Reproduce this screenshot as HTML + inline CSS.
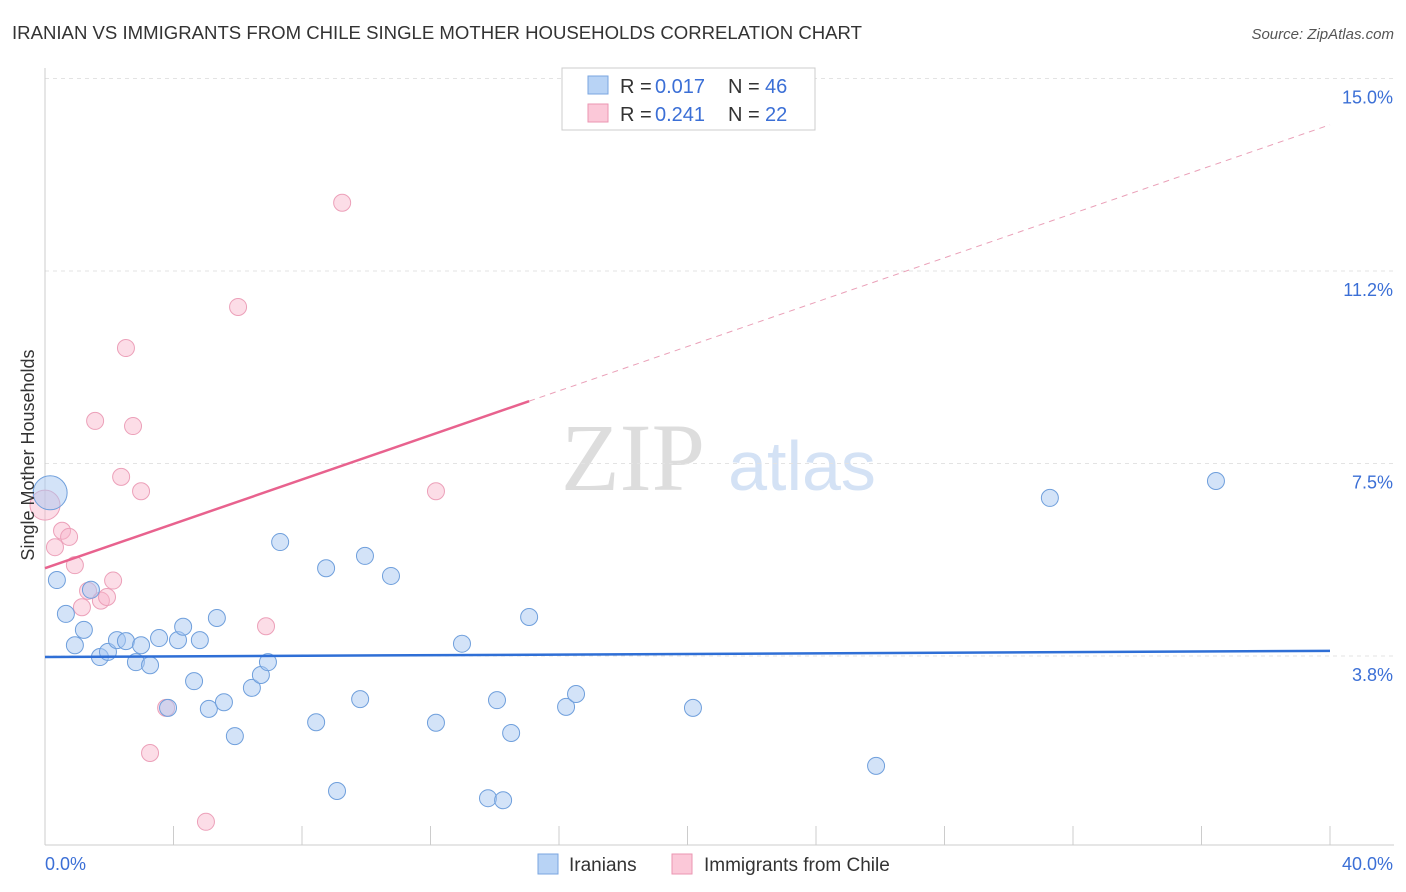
<!DOCTYPE html>
<html><head><meta charset="utf-8"><style>
body{margin:0;background:#fff;font-family:"Liberation Sans",sans-serif;}
svg{display:block}
</style></head><body>
<svg id="c" width="1406" height="892">
<text x="12" y="39" font-size="18" fill="#333" textLength="850" lengthAdjust="spacingAndGlyphs">IRANIAN VS IMMIGRANTS FROM CHILE SINGLE MOTHER HOUSEHOLDS CORRELATION CHART</text>
<text x="1394" y="39" font-size="15" fill="#555" font-style="italic" text-anchor="end">Source: ZipAtlas.com</text>
<text x="633" y="490" font-size="96" fill="#ddd" font-family="Liberation Serif" text-anchor="middle">ZIP</text>
<text x="802" y="490" font-size="70" fill="#d4e2f5" text-anchor="middle">atlas</text>
<g id="grid"></g><g id="axes"></g><g id="marks"></g>
<text transform="translate(34,455) rotate(-90)" font-size="18" fill="#333" text-anchor="middle">Single Mother Households</text>
<g>
<rect x="562" y="68" width="253" height="62" fill="#fff" stroke="#ccc"/>
<rect x="588" y="76" width="20" height="18" fill="#b8d3f5" stroke="#7aa6e0"/>
<rect x="588" y="104" width="20" height="18" fill="#fbc8d8" stroke="#eb96b2"/>
<text y="93" font-size="20" fill="#333"><tspan x="620">R =</tspan><tspan x="655" fill="#3b6fd6">0.017</tspan><tspan x="728">N =</tspan><tspan x="765" fill="#3b6fd6">46</tspan></text>
<text y="121" font-size="20" fill="#333"><tspan x="620">R =</tspan><tspan x="655" fill="#3b6fd6">0.241</tspan><tspan x="728">N =</tspan><tspan x="765" fill="#3b6fd6">22</tspan></text>
</g>
<g>
<rect x="538" y="854" width="20" height="20" fill="#b8d3f5" stroke="#7aa6e0"/>
<text x="569" y="871" font-size="19" fill="#333">Iranians</text>
<rect x="672" y="854" width="20" height="20" fill="#fbc8d8" stroke="#eb96b2"/>
<text x="704" y="871" font-size="19" fill="#333">Immigrants from Chile</text>
</g>
</svg>
<script>
const yTicks=[3.75,7.5,11.25,15];
const yTickLabels=["3.8%","7.5%","11.2%","15.0%"];
const xTicks=[0,4,8,12,16,20,24,28,32,36,40];
const blueX=[0.16,0.37,0.65,0.93,1.21,1.43,1.71,1.96,2.24,2.52,2.83,2.99,3.27,3.55,3.83,4.14,4.30,4.64,4.82,5.10,5.35,5.57,5.91,6.44,6.72,6.94,7.32,8.44,8.75,9.09,9.81,9.96,10.77,12.17,12.98,13.79,14.07,14.26,14.51,15.07,16.22,16.53,20.17,25.87,31.28,36.45];
const blueY=[6.93,5.23,4.57,3.96,4.26,5.04,3.73,3.83,4.06,4.04,3.63,3.96,3.57,4.10,2.74,4.06,4.32,3.26,4.06,2.72,4.49,2.85,2.19,3.13,3.38,3.63,5.97,2.46,5.46,1.12,2.91,5.70,5.31,2.45,3.99,0.98,2.89,0.94,2.25,4.51,2.76,3.01,2.74,1.61,6.83,7.16];
const pinkX=[0,0.31,0.53,0.75,0.93,1.15,1.34,1.56,1.74,1.93,2.12,2.37,2.52,2.74,2.99,3.27,3.77,5.01,6.01,6.88,9.25,12.17];
const pinkY=[6.69,5.87,6.19,6.07,5.52,4.70,5.02,8.33,4.83,4.90,5.22,7.24,9.75,8.23,6.96,1.86,2.74,0.52,10.55,4.33,12.58,6.96];
const blueTrend=[3.73,3.85];
const pinkTrend=[5.46,0.216];
const NS="http://www.w3.org/2000/svg";
const X=v=>45+v*32.125, Y=v=>848.5-v*51.33;
function mk(t,a,p){const e=document.createElementNS(NS,t);for(const k in a)e.setAttribute(k,a[k]);document.getElementById(p).appendChild(e);return e;}
yTicks.forEach((t,i)=>{
 const g=mk('line',{x1:45,x2:1394,y1:Y(t),y2:Y(t),stroke:'#e3e3e3','stroke-dasharray':'4,4'},'grid');
 
 
 const l=mk('text',{x:1393,y:Y(t)+25,'font-size':18,fill:'#3b6fd6','text-anchor':'end'},'axes');l.textContent=yTickLabels[i];
 
 
});
const ax=mk('line',{x1:45,x2:1394,y1:845,y2:845,stroke:'#ccc'},'axes');


const ay=mk('line',{x1:45,x2:45,y1:68,y2:845,stroke:'#ccc'},'axes');


xTicks.forEach(t=>{const e=mk('line',{x1:X(t),x2:X(t),y1:826,y2:845,stroke:'#ccc'},'axes');
 
 });
const l0=mk('text',{x:45,y:870,'font-size':18,fill:'#3b6fd6'},'axes');l0.textContent=xTicks[0].toFixed(1)+'%';


const l1=mk('text',{x:1393,y:870,'font-size':18,fill:'#3b6fd6','text-anchor':'end'},'axes');l1.textContent=xTicks[xTicks.length-1].toFixed(1)+'%';


pinkX.forEach((x,i)=>{const c=mk('circle',{cx:X(x),cy:Y(pinkY[i]),r:i==0?15:8.5,fill:'rgba(248,180,202,0.45)',stroke:'#eca0b9','stroke-width':1},'marks');
 
 });
blueX.forEach((x,i)=>{const c=mk('circle',{cx:X(x),cy:Y(blueY[i]),r:i==0?17:8.5,fill:'rgba(168,200,242,0.5)',stroke:'#6f9fdc','stroke-width':1},'marks');
 
 });
const bt=mk('line',{x1:X(0),y1:Y(blueTrend[0]),x2:X(40),y2:Y(blueTrend[1]),stroke:'#2f6fd6','stroke-width':2.5},'marks');


const px=Math.max(...pinkX)+2.9;
const pt=mk('line',{x1:X(0),y1:Y(pinkTrend[0]),x2:X(px),y2:Y(pinkTrend[0]+pinkTrend[1]*px),stroke:'#e8628e','stroke-width':2.5},'marks');


const pd=mk('line',{x1:X(px),y1:Y(pinkTrend[0]+pinkTrend[1]*px),x2:X(40),y2:Y(pinkTrend[0]+pinkTrend[1]*40),stroke:'#eaa0b8','stroke-width':1,'stroke-dasharray':'6,5'},'marks');


</script>
</body></html>
